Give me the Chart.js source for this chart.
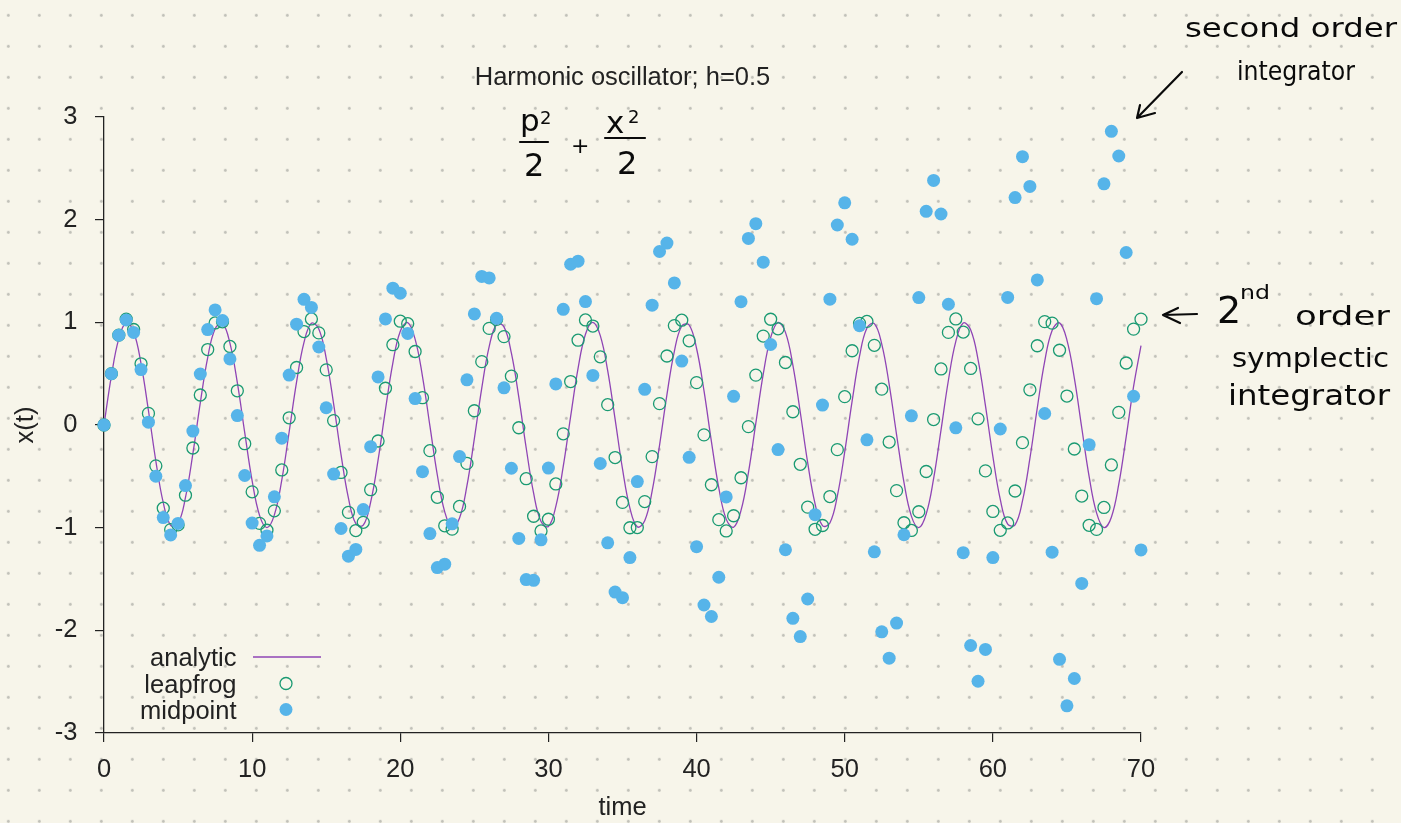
<!DOCTYPE html>
<html>
<head>
<meta charset="utf-8">
<script src="https://cdn.jsdelivr.net/npm/chart.js@4.4.1/dist/chart.umd.min.js"></script>
<style>
html,body{margin:0;padding:0;}
body{width:1401px;height:823px;overflow:hidden;background-color:#f7f5ea;
 background-image:radial-gradient(circle, #c0c0b8 0, #c0c0b8 1.1px, rgba(192,192,184,0) 1.7px);
 background-size:31px 31px;background-position:-7.2px -0.2px;}
#wrap{position:relative;width:1401px;height:823px;}
#c{position:absolute;left:0;top:0;}
#notes{position:absolute;left:0;top:0;}
</style>
</head>
<body>
<div id="wrap">
<canvas id="c" width="1401" height="823"></canvas>
<svg id="notes" width="1401" height="823" font-family="DejaVu Sans, sans-serif" fill="#0a0a0a">
  <g font-weight="400">
    <text x="1185" y="37" font-size="26" textLength="212" lengthAdjust="spacingAndGlyphs">second order</text>
    <text x="1237" y="80" font-size="27" textLength="118" lengthAdjust="spacingAndGlyphs">integrator</text>
    <text x="520" y="131" font-size="31">p</text>
    <text x="540" y="124" font-size="18">2</text>
    <text x="524" y="176" font-size="32">2</text>
    <text x="571" y="153" font-size="22">+</text>
    <text x="606" y="133" font-size="31">x</text>
    <text x="628" y="123" font-size="18">2</text>
    <text x="617" y="174" font-size="32">2</text>
    <text x="1217" y="323" font-size="38">2</text>
    <text x="1240" y="299" font-size="20" textLength="30" lengthAdjust="spacingAndGlyphs">nd</text>
    <text x="1295" y="325" font-size="27" textLength="95" lengthAdjust="spacingAndGlyphs">order</text>
    <text x="1232" y="367" font-size="27" textLength="157" lengthAdjust="spacingAndGlyphs">symplectic</text>
    <text x="1228" y="405" font-size="28" textLength="162" lengthAdjust="spacingAndGlyphs">integrator</text>
  </g>
  <g stroke="#0a0a0a" stroke-width="2.2" fill="none" stroke-linecap="round" stroke-linejoin="round">
    <path d="M1182 72 L1137 118 M1140 105 L1137 118 L1155 113"/>
    <path d="M1197 314 L1163 315 M1178 308 L1163 315 L1180 323"/>
    <path d="M520 142 L548 142"/>
    <path d="M605 138 L645 138"/>
  </g>
</svg>
</div>
<script>
const titleText = 'Harmonic oscillator; h=0.5';
const xLabel = 'time';
const yLabel = 'x(t)';
const seriesNames = ['analytic', 'leapfrog', 'midpoint'];

const times = [0,0.5,1,1.5,2,2.5,3,3.5,4,4.5,5,5.5,6,6.5,7,7.5,8,8.5,9,9.5,
10,10.5,11,11.5,12,12.5,13,13.5,14,14.5,15,15.5,16,16.5,17,17.5,18,18.5,19,19.5,
20,20.5,21,21.5,22,22.5,23,23.5,24,24.5,25,25.5,26,26.5,27,27.5,28,28.5,29,29.5,
30,30.5,31,31.5,32,32.5,33,33.5,34,34.5,35,35.5,36,36.5,37,37.5,38,38.5,39,39.5,
40,40.5,41,41.5,42,42.5,43,43.5,44,44.5,45,45.5,46,46.5,47,47.5,48,48.5,49,49.5,
50,50.5,51,51.5,52,52.5,53,53.5,54,54.5,55,55.5,56,56.5,57,57.5,58,58.5,59,59.5,
60,60.5,61,61.5,62,62.5,63,63.5,64,64.5,65,65.5,66,66.5,67,67.5,68,68.5,69,69.5,70];

const analytic = [0,0.479,0.841,0.997,0.909,0.598,0.141,-0.351,-0.757,-0.978,-0.959,-0.706,-0.279,0.215,0.657,0.938,0.989,0.798,0.412,-0.075,
-0.544,-0.880,-1.000,-0.875,-0.537,-0.066,0.420,0.804,0.991,0.935,0.650,0.206,-0.288,-0.712,-0.961,-0.976,-0.751,-0.342,0.150,0.606,
0.913,0.997,0.837,0.472,-0.009,-0.487,-0.846,-0.998,-0.906,-0.591,-0.132,0.359,0.763,0.979,0.956,0.699,0.271,-0.224,-0.664,-0.941,
-0.988,-0.793,-0.404,0.084,0.551,0.884,1.000,0.871,0.529,0.057,-0.428,-0.809,-0.992,-0.932,-0.644,-0.198,0.296,0.718,0.964,0.974,
0.745,0.334,-0.159,-0.613,-0.917,-0.996,-0.832,-0.464,0.018,0.495,0.851,0.999,0.902,0.584,0.124,-0.367,-0.768,-0.981,-0.954,-0.693,
-0.262,0.232,0.670,0.944,0.987,0.788,0.396,-0.093,-0.559,-0.888,-1.000,-0.867,-0.522,-0.049,0.436,0.814,0.993,0.928,0.637,0.189,
-0.305,-0.724,-0.966,-0.972,-0.739,-0.326,0.167,0.620,0.920,0.995,0.827,0.456,-0.027,-0.503,-0.856,-0.999,-0.898,-0.577,-0.115,0.376,0.774];

const leapfrog = [0,0.5,0.875,1.031,0.930,0.596,0.113,-0.398,-0.810,-1.019,-0.973,-0.684,-0.224,0.292,0.735,0.994,1.005,0.765,0.333,-0.182,
-0.651,-0.958,-1.025,-0.836,-0.438,0.070,0.560,0.910,1.033,0.897,0.537,0.043,-0.462,-0.851,-1.028,-0.948,-0.630,-0.156,0.358,0.782,
1.011,0.987,0.716,0.266,-0.250,-0.704,-0.982,-1.014,-0.793,-0.374,0.139,0.617,0.941,1.029,0.861,0.476,-0.027,-0.523,-0.889,-1.032,
-0.918,-0.574,-0.086,0.423,0.826,1.023,0.964,0.664,0.198,-0.317,-0.754,-1.001,-0.999,-0.746,-0.308,0.208,0.672,0.968,1.021,0.820,
0.413,-0.096,-0.582,-0.922,-1.032,-0.884,-0.514,-0.016,0.486,0.866,1.030,0.937,0.609,0.129,-0.383,-0.800,-1.016,-0.979,-0.697,-0.240,
0.276,0.723,0.990,1.009,0.776,0.349,-0.166,-0.639,-0.952,-1.027,-0.845,-0.453,0.053,0.546,0.902,1.033,0.905,0.551,0.060,-0.447,
-0.842,-1.026,-0.954,-0.643,-0.172,0.343,0.772,1.007,0.992,0.728,0.282,-0.234,-0.692,-0.977,-1.017,-0.803,-0.389,0.123,0.604,0.934,1.031];

const midpoint = [0,0.5,0.875,1.023,0.902,0.540,0.028,-0.499,-0.902,-1.071,-0.959,-0.590,-0.059,0.497,0.929,1.121,1.018,0.644,0.092,-0.492,
-0.955,-1.172,-1.080,-0.700,-0.128,0.486,0.982,1.224,1.145,0.760,0.168,-0.478,-1.008,-1.278,-1.212,-0.824,-0.211,0.468,1.033,1.333,
1.283,0.892,0.257,-0.455,-1.058,-1.389,-1.356,-0.963,-0.308,0.440,1.082,1.447,1.433,1.039,0.362,-0.421,-1.105,-1.506,-1.513,-1.118,
-0.420,0.400,1.127,1.566,1.596,1.202,0.483,-0.375,-1.148,-1.627,-1.682,-1.291,-0.551,0.347,1.167,1.690,1.772,1.384,0.623,-0.315,
-1.185,-1.753,-1.865,-1.483,-0.701,0.279,1.201,1.817,1.961,1.586,0.784,-0.239,-1.215,-1.883,-2.061,-1.695,-0.873,0.194,1.226,1.948,
2.164,1.809,0.967,-0.144,-1.235,-2.015,-2.271,-1.929,-1.069,0.089,1.241,2.081,2.382,2.055,1.176,-0.028,-1.244,-2.148,-2.496,-2.186,
-1.291,-0.039,1.243,2.215,2.614,2.324,1.413,0.112,-1.239,-2.282,-2.735,-2.469,-1.543,-0.192,1.230,2.349,2.860,2.620,1.680,0.280,-1.217];

const FONT = '"Liberation Sans", Arial, sans-serif';
const FSIZE = 25.5;
const INK = '#222';

const pts = arr => times.map((t, i) => ({x: t, y: arr[i]}));

const gpLegend = {
  id: 'gpLegend',
  afterDraw(chart) {
    const {ctx, chartArea: a} = chart;
    const ds = chart.data.datasets;
    const rows = [a.bottom - 67, a.bottom - 40.5, a.bottom - 14.5];
    ctx.save();
    ctx.font = FSIZE + 'px ' + FONT;
    ctx.textAlign = 'right';
    ctx.textBaseline = 'alphabetic';
    ds.forEach((d, i) => {
      const yb = rows[i];
      ctx.fillStyle = INK;
      ctx.fillText(d.label, a.left + 132.5, yb);
      const yc = yb - 9;
      if (d.showLine) {
        ctx.strokeStyle = d.borderColor;
        ctx.lineWidth = d.borderWidth;
        ctx.beginPath();
        ctx.moveTo(a.left + 149, yc);
        ctx.lineTo(a.left + 217, yc);
        ctx.stroke();
      } else {
        ctx.beginPath();
        ctx.arc(a.left + 182, yc, d.pointRadius, 0, Math.PI * 2);
        if (d.pointBackgroundColor && d.pointBackgroundColor !== 'transparent') {
          ctx.fillStyle = d.pointBackgroundColor;
          ctx.fill();
        }
        if (d.pointBorderWidth > 0) {
          ctx.strokeStyle = d.pointBorderColor;
          ctx.lineWidth = d.pointBorderWidth;
          ctx.stroke();
        }
      }
    });
    ctx.restore();
  }
};

new Chart(document.getElementById('c'), {
  type: 'scatter',
  data: {
    datasets: [
      {
        label: seriesNames[0], data: pts(analytic), showLine: true,
        borderColor: '#8f45b5', borderWidth: 1.3, tension: 0.4,
        pointRadius: 0, order: 3, clip: false
      },
      {
        label: seriesNames[1], data: pts(leapfrog), showLine: false,
        pointRadius: 6, pointBorderWidth: 1.3, pointBorderColor: '#1a9a72',
        pointBackgroundColor: 'transparent', order: 2, clip: false
      },
      {
        label: seriesNames[2], data: pts(midpoint), showLine: false,
        pointRadius: 6.5, pointBorderWidth: 0, pointBorderColor: '#56B4E9',
        pointBackgroundColor: '#56B4E9', order: 1, clip: false
      }
    ]
  },
  options: {
    responsive: false,
    animation: false,
    devicePixelRatio: 1,
    events: [],
    layout: {padding: {left: 0, right: 260, top: 0, bottom: 0}},
    plugins: {
      legend: {display: false},
      tooltip: {enabled: false},
      title: {
        display: true, text: titleText, fullSize: false,
        color: INK, font: {family: FONT, size: FSIZE, weight: 'normal'},
        padding: {top: 62.6, bottom: 23.8}
      }
    },
    scales: {
      x: {
        type: 'linear', min: 0, max: 70, z: 1,
        afterFit(s) { s.height = 90; },
        ticks: {stepSize: 10, color: INK, padding: 13, font: {family: FONT, size: FSIZE}, maxRotation: 0},
        grid: {display: true, drawOnChartArea: false, drawTicks: true, tickLength: 9, color: INK, lineWidth: 1.2},
        border: {display: true, color: INK, width: 1.3},
        title: {display: true, text: xLabel, color: INK, font: {family: FONT, size: FSIZE}, padding: {top: 0, bottom: 0}}
      },
      y: {
        type: 'linear', min: -3, max: 3, z: 1,
        afterFit(s) { s.width = 104; },
        ticks: {stepSize: 1, color: INK, padding: 17.6, font: {family: FONT, size: FSIZE}},
        grid: {display: true, drawOnChartArea: false, drawTicks: true, tickLength: 9, color: INK, lineWidth: 1.2},
        border: {display: true, color: INK, width: 1.3},
        title: {display: true, text: yLabel, color: INK, font: {family: FONT, size: FSIZE}, padding: {top: 11, bottom: 0}}
      }
    }
  },
  plugins: [gpLegend]
});
</script>
</body>
</html>
